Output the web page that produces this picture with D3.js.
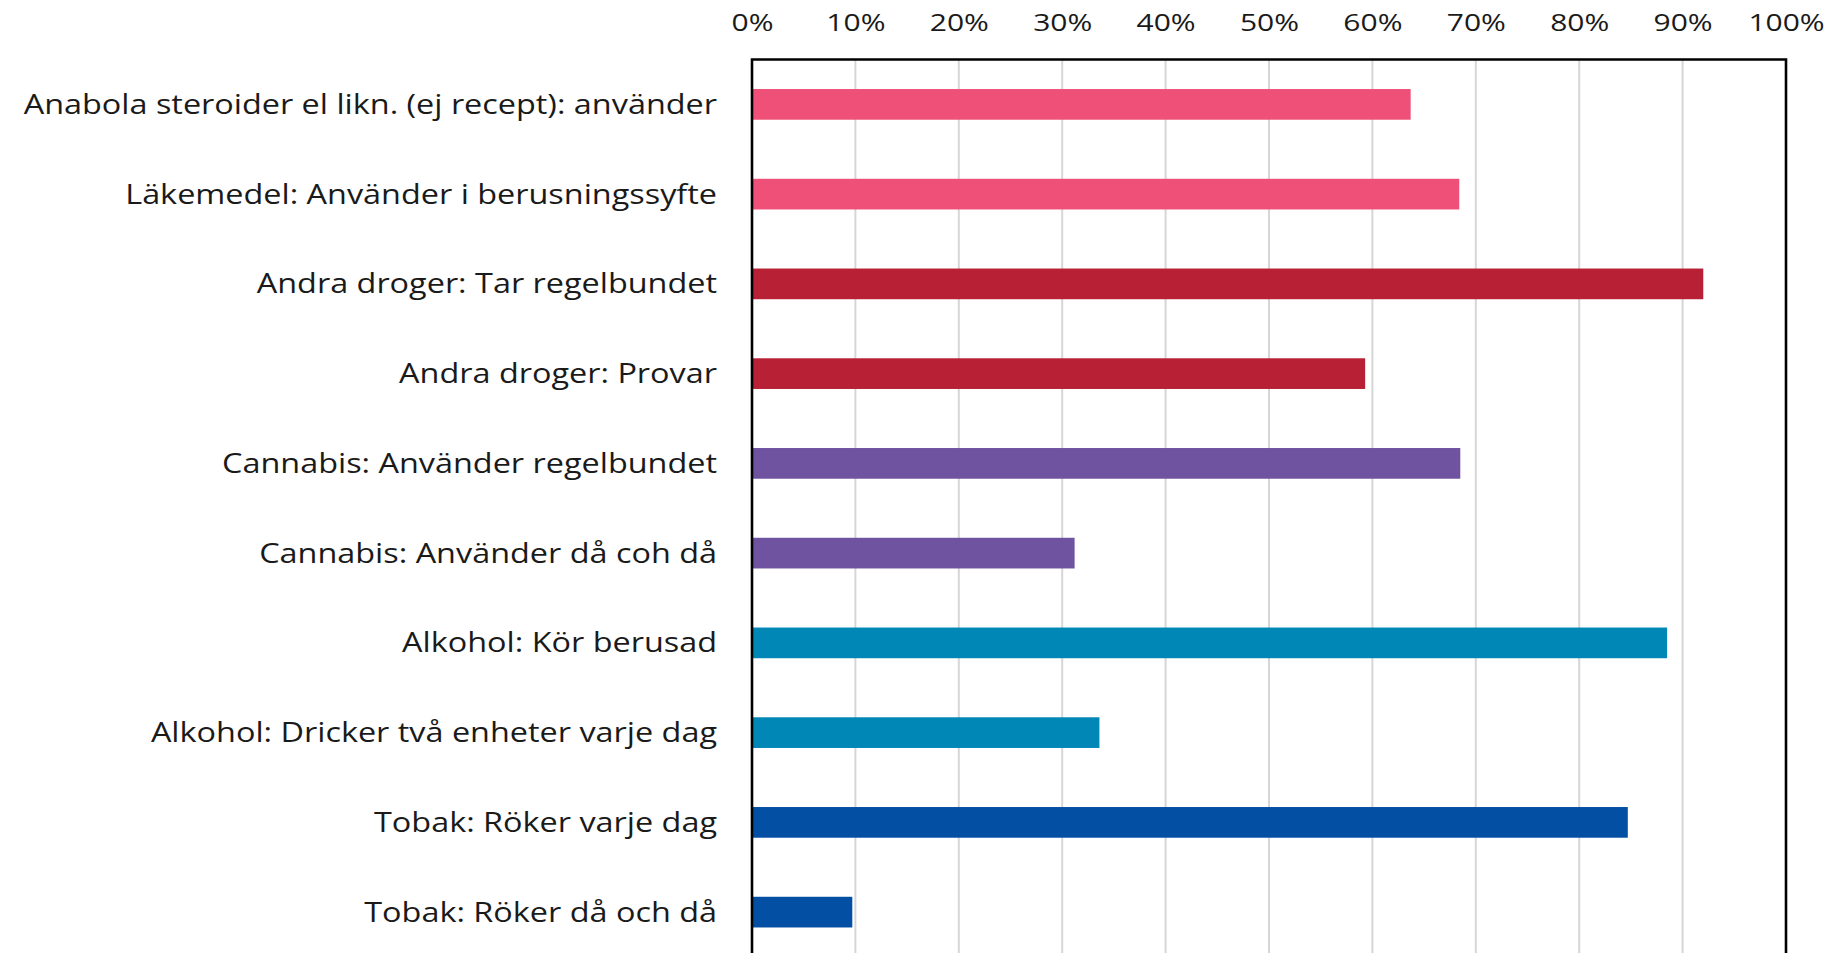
<!DOCTYPE html>
<html>
<head>
<meta charset="utf-8">
<script src="https://cdn.jsdelivr.net/npm/d3@7"></script>
<style>
  html, body { margin: 0; padding: 0; background: #ffffff; }
  svg { display: block; }
  text { font-family: "Open Sans", "DejaVu Sans", sans-serif; fill: #1a1a1a; }
</style>
</head>
<body>
<svg id="chart" width="1828" height="953"></svg>
<script>
// Share of respondents per substance-use behaviour (percent)
const categories = [
  "Anabola steroider el likn. (ej recept): använder",
  "Läkemedel: Använder i berusningssyfte",
  "Andra droger: Tar regelbundet",
  "Andra droger: Provar",
  "Cannabis: Använder regelbundet",
  "Cannabis: Använder då coh då",
  "Alkohol: Kör berusad",
  "Alkohol: Dricker två enheter varje dag",
  "Tobak: Röker varje dag",
  "Tobak: Röker då och då"
];
const values = [63.7, 68.4, 92.0, 59.3, 68.5, 31.2, 88.5, 33.6, 84.7, 9.7];
const groups = ["Anabola/Läkemedel", "Anabola/Läkemedel", "Andra droger", "Andra droger",
                "Cannabis", "Cannabis", "Alkohol", "Alkohol", "Tobak", "Tobak"];
const groupNames = ["Anabola/Läkemedel", "Andra droger", "Cannabis", "Alkohol", "Tobak"];
const groupColors = ["#ef5078", "#b82035", "#6f52a0", "#0087b5", "#034fa3"];
const tickValues = [0, 10, 20, 30, 40, 50, 60, 70, 80, 90, 100];

const svg = d3.select("#chart");
const plot = { left: 752, right: 1786, top: 59.5 };
const step = 89.75;
const plotBottom = plot.top + step * categories.length;
const labelStretch = 1.2;
const tickStretch = 1.25;

const x = d3.scaleLinear().domain([0, 100]).range([plot.left, plot.right]);
const y = d3.scaleBand().domain(categories)
  .range([plot.top, plotBottom])
  .paddingInner(0.658).paddingOuter(0.329);
const color = d3.scaleOrdinal().domain(groupNames).range(groupColors);

// vertical gridlines
svg.append("g")
  .selectAll("line")
  .data(tickValues.filter(t => t > 0 && t < 100))
  .join("line")
  .attr("x1", d => x(d)).attr("x2", d => x(d))
  .attr("y1", plot.top).attr("y2", plotBottom)
  .attr("stroke", "#d6d6d6").attr("stroke-width", 2);

// bars
svg.append("g")
  .selectAll("rect")
  .data(categories.map((c, i) => ({ c, v: values[i], g: groups[i] })))
  .join("rect")
  .attr("x", x(0))
  .attr("y", d => y(d.c))
  .attr("width", d => x(d.v) - x(0))
  .attr("height", y.bandwidth())
  .attr("fill", d => color(d.g));

// plot frame (top, left, right)
svg.append("path")
  .attr("d", `M${plot.left},${plotBottom}V${plot.top}H${plot.right}V${plotBottom}`)
  .attr("fill", "none").attr("stroke", "#000").attr("stroke-width", 2.6);

// percent axis above the plot
const axis = d3.axisTop(x).tickValues(tickValues).tickFormat(d => d + "%").tickSize(0).tickPadding(0);
const axisG = svg.append("g").attr("transform", `translate(0,${plot.top - 28.5})`).call(axis);
axisG.select(".domain").remove();
axisG.selectAll("text")
  .attr("y", 0).attr("dy", 0)
  .attr("transform", `scale(${tickStretch},1)`)
  .style("font-family", "'Open Sans', sans-serif")
  .style("font-size", "24px")
  .style("fill", "#1a1a1a");

// category labels
svg.append("g")
  .selectAll("g")
  .data(categories)
  .join("g")
  .attr("transform", d => `translate(717,${y(d) + y.bandwidth() / 2})`)
  .append("text")
  .attr("text-anchor", "end")
  .attr("dy", "0.35em")
  .attr("transform", `scale(${labelStretch},1)`)
  .style("font-size", "27px")
  .text(d => d);
</script>
</body>
</html>
